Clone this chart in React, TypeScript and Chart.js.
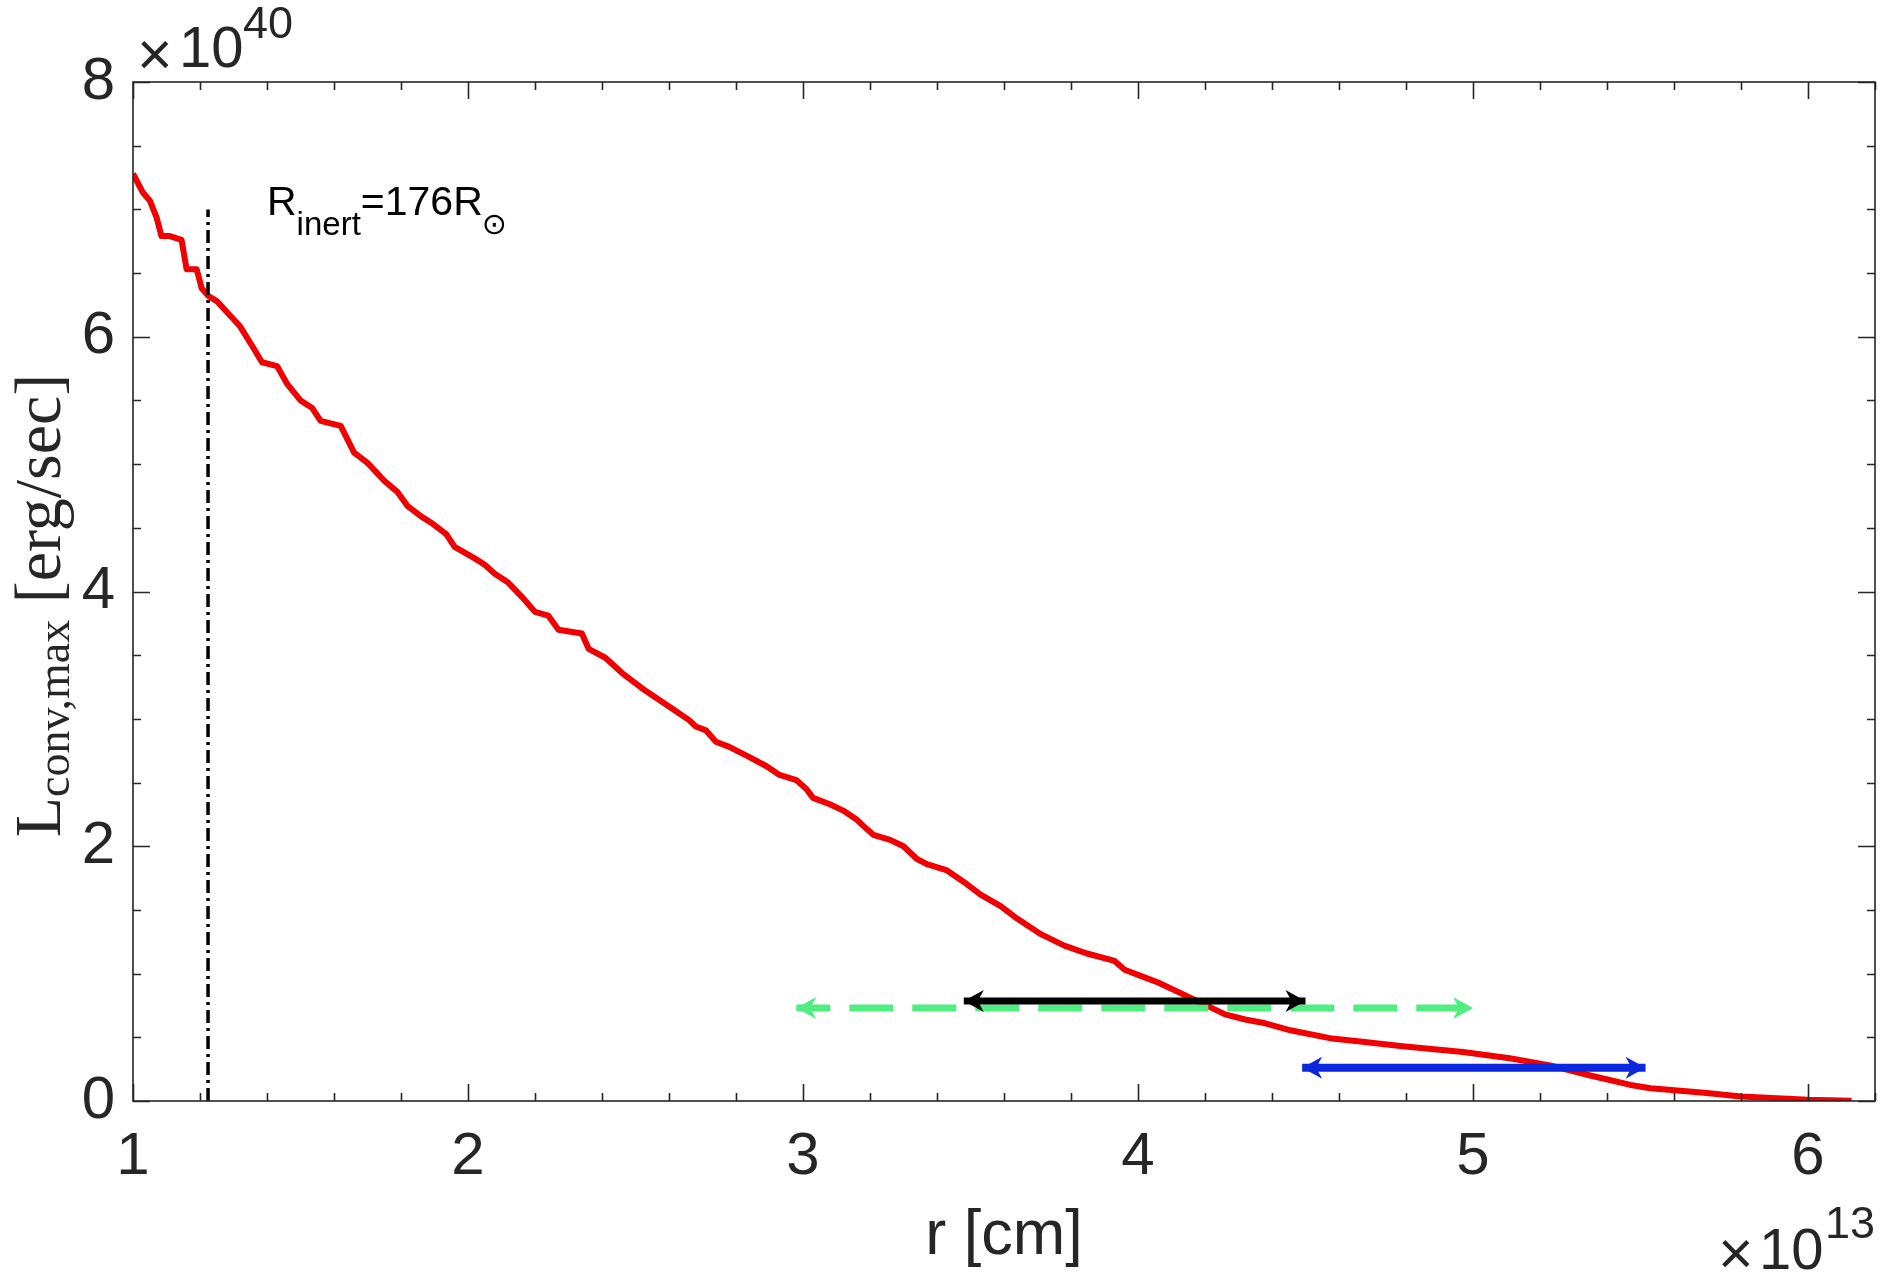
import React, { useEffect, useRef } from 'react';
import { Chart, registerables } from 'chart.js';

Chart.register(...registerables);

// r in units of 1e13 cm, L in units of 1e40 erg/s
const rValues = [
  1.0, 1.03, 1.05, 1.07, 1.085, 1.11, 1.145, 1.16, 1.19, 1.205, 1.225, 1.25,
  1.32, 1.36, 1.385, 1.43, 1.46, 1.5, 1.535, 1.56, 1.62, 1.66, 1.7, 1.75,
  1.79, 1.82, 1.86, 1.89, 1.935, 1.96, 2.02, 2.05, 2.08, 2.12, 2.16, 2.2,
  2.24, 2.27, 2.34, 2.36, 2.41, 2.46, 2.53, 2.61, 2.66, 2.68, 2.71, 2.74,
  2.78, 2.84, 2.89, 2.93, 2.98, 3.01, 3.03, 3.08, 3.12, 3.16, 3.18, 3.21,
  3.26, 3.3, 3.34, 3.37, 3.43, 3.48, 3.53, 3.59, 3.64, 3.71, 3.78, 3.845,
  3.93, 3.96, 4.0, 4.06, 4.165, 4.26, 4.32, 4.38, 4.455, 4.58, 4.67, 4.79,
  4.97, 5.11, 5.23, 5.35, 5.47, 5.53, 5.69, 5.8, 6.0, 6.13,
];
const lValues = [
  7.28, 7.13, 7.07, 6.94, 6.79, 6.79, 6.76, 6.53, 6.53, 6.38, 6.32, 6.28,
  6.08, 5.91, 5.8, 5.77, 5.63, 5.5, 5.44, 5.34, 5.3, 5.09, 5.01, 4.87,
  4.78, 4.67, 4.59, 4.54, 4.45, 4.35, 4.26, 4.21, 4.14, 4.07, 3.96, 3.84,
  3.81, 3.7, 3.67, 3.55, 3.48, 3.36, 3.22, 3.08, 2.99, 2.94, 2.91, 2.82,
  2.78, 2.7, 2.63, 2.56, 2.52, 2.45, 2.38, 2.33, 2.28, 2.21, 2.16, 2.09,
  2.05, 2.0, 1.9, 1.86, 1.81, 1.72, 1.62, 1.53, 1.43, 1.31, 1.22, 1.16,
  1.1, 1.03, 0.99, 0.93, 0.8, 0.68, 0.64, 0.61, 0.555, 0.49, 0.466, 0.43,
  0.385, 0.335, 0.28, 0.2, 0.126, 0.1, 0.065, 0.036, 0.01, 0.002,
];

const inertR = [1.224, 1.224];
const inertL = [0, 7.0];

const greenArrowR = [2.98, 5.0];
const greenArrowL = 0.73;
const blackArrowR = [3.48, 4.5];
const blackArrowL = 0.785;
const blueArrowR = [4.49, 5.515];
const blueArrowL = 0.262;

const xTickValues = [1, 2, 3, 4, 5, 6];
const yTickValues = [0, 2, 4, 6, 8];
const xMinorStep = 0.2;
const yMinorStep = 0.5;
const xRange = [1, 6.2];
const yRange = [0, 8];

const annotationPos = [1.4, 6.955];

const AXIS_COLOR = '#262626';
const SANS = '"Liberation Sans", Arial, sans-serif';
const SERIF = '"Liberation Serif", "Times New Roman", serif';

function drawInk(
  ctx: CanvasRenderingContext2D,
  text: string,
  font: string,
  left: number,
  yEdge: number,
  edge: 'top' | 'bottom',
) {
  ctx.font = font;
  ctx.textAlign = 'left';
  ctx.textBaseline = 'alphabetic';
  const m = ctx.measureText(text);
  const x = left + m.actualBoundingBoxLeft;
  const y = edge === 'top' ? yEdge + m.actualBoundingBoxAscent : yEdge - m.actualBoundingBoxDescent;
  ctx.fillText(text, x, y);
}

function drawTimes(ctx: CanvasRenderingContext2D, left: number, top: number, inkWidth: number) {
  ctx.font = `100px ${SANS}`;
  const m = ctx.measureText('\u00d7');
  const w = m.actualBoundingBoxLeft + m.actualBoundingBoxRight;
  const size = (100 * inkWidth) / w;
  drawInk(ctx, '\u00d7', `${size}px ${SANS}`, left, top, 'top');
}

const decorPlugin = {
  id: 'decor',
  afterDatasetsDraw(chart: any) {
    const ctx = chart.ctx;
    const xs = chart.scales.x;
    const ys = chart.scales.y;
    const arrows = [
      { r: greenArrowR, l: greenArrowL, color: 'rgb(80,238,128)' },
      { r: blackArrowR, l: blackArrowL, color: '#000000' },
      { r: blueArrowR, l: blueArrowL, color: 'rgb(12,40,222)' },
    ];
    ctx.save();
    for (const a of arrows) {
      const py = ys.getPixelForValue(a.l);
      const ends = [
        { p: xs.getPixelForValue(a.r[0]), d: -1 },
        { p: xs.getPixelForValue(a.r[1]), d: 1 },
      ];
      ctx.fillStyle = a.color;
      for (const e of ends) {
        const hl = 20;
        const hw = 11;
        ctx.beginPath();
        ctx.moveTo(e.p, py);
        ctx.lineTo(e.p - e.d * hl, py - hw);
        ctx.lineTo(e.p - e.d * (hl - 6), py);
        ctx.lineTo(e.p - e.d * hl, py + hw);
        ctx.closePath();
        ctx.fill();
      }
    }
    ctx.restore();
  },
  afterDraw(chart: any) {
    const ctx = chart.ctx;
    const ca = chart.chartArea;
    const xs = chart.scales.x;
    const ys = chart.scales.y;
    ctx.save();
    // box
    ctx.strokeStyle = AXIS_COLOR;
    ctx.lineWidth = 1.6;
    ctx.strokeRect(ca.left, ca.top, ca.right - ca.left, ca.bottom - ca.top);
    // ticks
    const major = 17;
    const minor = 8;
    ctx.beginPath();
    for (let v = xRange[0]; v <= xRange[1] + 1e-9; v += xMinorStep) {
      const isMajor = xTickValues.some((t) => Math.abs(t - v) < 1e-6);
      const len = isMajor ? major : minor;
      const px = Math.round(xs.getPixelForValue(v)) + 0.5;
      ctx.moveTo(px, ca.bottom);
      ctx.lineTo(px, ca.bottom - len);
      ctx.moveTo(px, ca.top);
      ctx.lineTo(px, ca.top + len);
    }
    for (let v = yRange[0]; v <= yRange[1] + 1e-9; v += yMinorStep) {
      const isMajor = yTickValues.some((t) => Math.abs(t - v) < 1e-6);
      const len = isMajor ? major : minor;
      const py = Math.round(ys.getPixelForValue(v)) + 0.5;
      ctx.moveTo(ca.left, py);
      ctx.lineTo(ca.left + len, py);
      ctx.moveTo(ca.right, py);
      ctx.lineTo(ca.right - len, py);
    }
    ctx.stroke();

    ctx.fillStyle = AXIS_COLOR;
    // exponent top-left
    drawTimes(ctx, 141, 40, 28);
    drawInk(ctx, '10', `58px ${SANS}`, 183, 68, 'bottom');
    drawInk(ctx, '40', `45px ${SANS}`, 244, 7, 'top');
    // exponent bottom-right
    drawTimes(ctx, 1722, 1239, 28);
    drawInk(ctx, '10', `58px ${SANS}`, 1763, 1270, 'bottom');
    drawInk(ctx, '13', `45px ${SANS}`, 1828, 1207, 'top');

    // x title
    ctx.font = `63px ${SANS}`;
    ctx.textAlign = 'center';
    ctx.textBaseline = 'alphabetic';
    ctx.fillText('r [cm]', (ca.left + ca.right) / 2, 1254);

    // y title (rotated)
    ctx.save();
    ctx.translate(60, (ca.top + ca.bottom) / 2 + 14);
    ctx.rotate(-Math.PI / 2);
    ctx.textAlign = 'left';
    ctx.font = `66px ${SERIF}`;
    const wL = ctx.measureText('L').width;
    const wRest = ctx.measureText(' [erg/sec]').width;
    ctx.font = `46px ${SERIF}`;
    const wSub = ctx.measureText('conv,max').width;
    let tx = -(wL + wSub + wRest) / 2;
    ctx.font = `66px ${SERIF}`;
    ctx.fillText('L', tx, 0);
    tx += wL;
    ctx.font = `46px ${SERIF}`;
    ctx.fillText('conv,max', tx, 9);
    tx += wSub;
    ctx.font = `66px ${SERIF}`;
    ctx.fillText(' [erg/sec]', tx, 0);
    ctx.restore();

    // annotation
    ctx.fillStyle = '#000000';
    ctx.textAlign = 'left';
    ctx.textBaseline = 'alphabetic';
    let ax = xs.getPixelForValue(annotationPos[0]);
    const ay = ys.getPixelForValue(annotationPos[1]);
    ctx.font = `41px ${SANS}`;
    ctx.fillText('R', ax, ay);
    ax += ctx.measureText('R').width;
    ctx.font = `33px ${SANS}`;
    ctx.fillText('inert', ax, ay + 20);
    ax += ctx.measureText('inert').width;
    ctx.font = `41px ${SANS}`;
    ctx.fillText('=176R', ax, ay);
    ax += ctx.measureText('=176R').width;
    ctx.font = `30px "DejaVu Sans", sans-serif`;
    ctx.fillText('\u2299', ax - 1, ay + 19);
    ctx.restore();
  },
};

export default function App() {
  const ref = useRef<HTMLCanvasElement | null>(null);
  useEffect(() => {
    if (!ref.current) return;
    const pts = (xs: number[], ys: number[]) => xs.map((x, i) => ({ x, y: ys[i] }));
    const chart = new Chart(ref.current, {
      type: 'line',
      data: {
        datasets: [
          {
            data: pts(rValues, lValues),
            borderColor: '#f00000',
            borderWidth: 6,
            pointRadius: 0,
            tension: 0,
            order: 5,
          },
          {
            data: pts(inertR, inertL),
            borderColor: '#000000',
            borderWidth: 3.5,
            borderDash: [13, 5, 3, 5],
            pointRadius: 0,
            order: 4,
          },
          {
            data: pts(greenArrowR, [greenArrowL, greenArrowL]),
            borderColor: 'rgb(80,238,128)',
            borderWidth: 7,
            borderDash: [44, 19],
            borderDashOffset: 10,
            pointRadius: 0,
            order: 3,
          },
          {
            data: pts(blackArrowR, [blackArrowL, blackArrowL]),
            borderColor: '#000000',
            borderWidth: 7,
            pointRadius: 0,
            order: 2,
          },
          {
            data: pts(blueArrowR, [blueArrowL, blueArrowL]),
            borderColor: 'rgb(12,40,222)',
            borderWidth: 8,
            pointRadius: 0,
            order: 1,
          },
        ],
      },
      options: {
        animation: false,
        responsive: false,
        devicePixelRatio: 1,
        parsing: false as any,
        layout: { padding: { left: 0, top: 82, right: 5, bottom: 0 } },
        plugins: { legend: { display: false }, tooltip: { enabled: false } },
        elements: { line: { borderCapStyle: 'butt', borderJoinStyle: 'round' } },
        scales: {
          x: {
            type: 'linear',
            min: xRange[0],
            max: xRange[1],
            grid: { display: false, drawTicks: false },
            border: { display: false },
            afterBuildTicks: (s: any) => {
              s.ticks = xTickValues.map((v) => ({ value: v }));
            },
            afterFit: (s: any) => {
              s.height = 171;
            },
            ticks: {
              autoSkip: false,
              maxRotation: 0,
              padding: 20,
              color: AXIS_COLOR,
              font: { family: SANS, size: 60, lineHeight: 1.2 },
              callback: (v: any) => String(v),
            },
          },
          y: {
            type: 'linear',
            min: yRange[0],
            max: yRange[1],
            grid: { display: false, drawTicks: false },
            border: { display: false },
            afterBuildTicks: (s: any) => {
              s.ticks = yTickValues.map((v) => ({ value: v }));
            },
            afterFit: (s: any) => {
              s.width = 133;
            },
            ticks: {
              autoSkip: false,
              padding: 18,
              color: AXIS_COLOR,
              font: { family: SANS, size: 60, lineHeight: 1.2 },
              callback: (v: any) => String(v),
            },
          },
        },
      },
      plugins: [decorPlugin],
    });
    return () => chart.destroy();
  }, []);
  return (
    <div style={{ position: 'fixed', left: 0, top: 0, width: 1880, height: 1272, background: '#fff' }}>
      <canvas ref={ref} width={1880} height={1272} style={{ width: 1880, height: 1272, display: 'block' }} />
    </div>
  );
}
